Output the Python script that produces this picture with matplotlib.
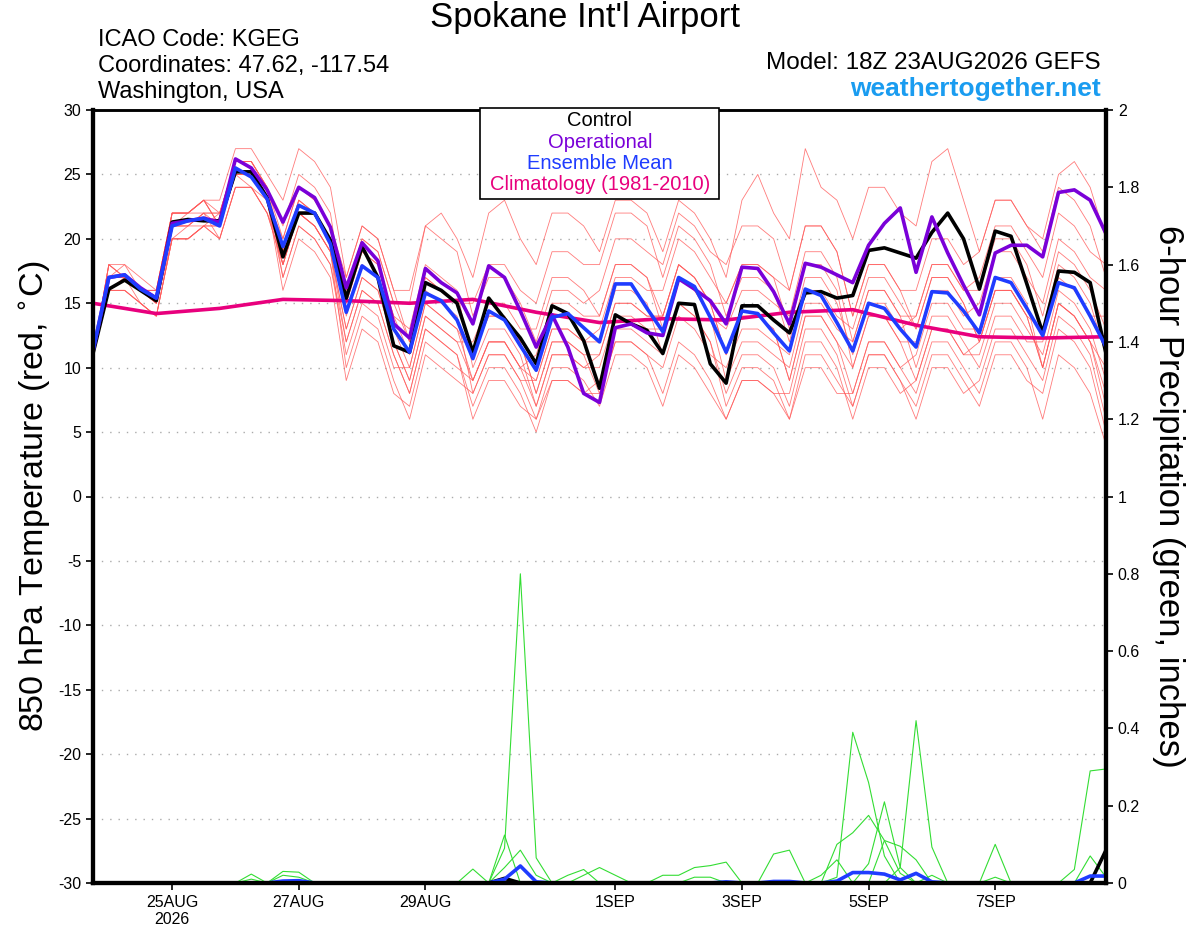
import numpy as np
import matplotlib
matplotlib.use("Agg")
import matplotlib.pyplot as plt
from matplotlib.patches import Rectangle

plt.rcParams['font.family'] = ['Liberation Sans', 'DejaVu Sans']
plt.rcParams['axes.unicode_minus'] = False

# 6-hourly steps from 18Z 23AUG2026
tick_steps = [5, 13, 21, 33, 41, 49, 57]
tick_labels = ['25AUG\n2026', '27AUG', '29AUG', '1SEP', '3SEP', '5SEP', '7SEP']

control = [11.1, 16.1, 16.8, 16.0, 15.2, 21.3, 21.5, 21.4, 21.4, 25.2,
           25.2, 23.2, 18.6, 22.0, 22.0, 19.9, 15.4, 19.4, 17.0, 11.7,
           11.2, 16.6, 16.0, 15.0, 11.2, 15.4, 13.8, 12.3, 10.3, 14.8,
           14.2, 12.1, 8.4, 14.1, 13.4, 12.9, 11.1, 15.0, 14.9, 10.3,
           8.8, 14.8, 14.8, 13.7, 12.7, 15.8, 15.9, 15.4, 15.6, 19.1,
           19.3, 18.9, 18.5, 20.5, 22.0, 20.0, 16.1, 20.6, 20.2, 16.5,
           12.7, 17.5, 17.4, 16.6, 11.1]
operational = [11.3, 17.0, 17.2, 16.2, 15.4, 21.2, 21.4, 21.6, 21.3, 26.2,
               25.5, 23.8, 21.3, 24.0, 23.2, 20.9, 16.2, 19.7, 18.3, 13.4,
               12.3, 17.7, 16.6, 15.8, 13.4, 17.9, 17.0, 14.4, 11.6, 14.1,
               11.6, 8.0, 7.3, 13.1, 13.4, 12.7, 12.5, 16.9, 16.1, 15.2,
               13.4, 17.8, 17.7, 15.9, 13.4, 18.1, 17.8, 17.2, 16.6, 19.5,
               21.2, 22.4, 17.4, 21.7, 18.9, 16.4, 14.1, 18.9, 19.5, 19.5,
               18.6, 23.6, 23.8, 23.0, 20.4]
ens_mean = [11.3, 17.0, 17.2, 16.1, 15.4, 21.0, 21.4, 21.6, 21.0, 25.5,
            24.8, 23.1, 19.4, 22.6, 22.0, 19.6, 14.3, 17.9, 17.0, 13.0,
            11.2, 15.8, 15.2, 13.7, 10.7, 14.4, 13.7, 11.7, 9.8, 13.9,
            14.2, 13.1, 12.0, 16.5, 16.5, 14.6, 12.8, 17.0, 16.3, 13.9,
            11.2, 14.4, 14.2, 12.7, 11.3, 16.1, 15.6, 13.5, 11.3, 15.0,
            14.6, 13.0, 11.6, 15.9, 15.8, 14.4, 12.7, 17.0, 16.6, 14.6,
            12.5, 16.6, 16.2, 14.0, 11.6]
# climatology, daily (every 4th step)
clim = [15.0, 14.2, 14.6, 15.3, 15.2, 15.0, 15.3, 14.3, 13.5, 13.8,
        13.7, 14.3, 14.5, 13.3, 12.4, 12.3, 12.4]

members = [
    [11,17,18,16, 16,22,22,23, 22,26,26,24, 19,23,22,20, 16,20,19,15, 15,21,22,20, 17,22,23,20, 18,22,22,21,
     19,23,23,22, 19,23,22,20, 17,23,25,22, 20,27,24,23, 20,24,24,22, 21,26,27,23, 19,23,23,21, 20,25,26,24, 20],
    [11,16,17,16, 15,20,21,21, 20,24,24,22, 18,22,21,19, 12,16,15,11, 8,13,12,11, 7,10,10,8, 5,9,9,8,
     9,13,13,12, 11,15,14,12, 7,10,10,9, 6,11,11,9, 7,11,11,9, 7,11,11,9, 7,11,11,9, 8,13,12,10, 5],
    [11,18,17,16, 16,22,22,23, 21,25,25,23, 20,24,23,21, 17,21,20,16, 16,21,20,19, 14,17,17,15, 12,16,16,15,
     16,20,20,19, 18,22,21,19, 18,21,21,20, 16,21,21,19, 14,18,18,16, 16,20,20,18, 19,23,23,21, 19,24,23,21, 17],
    [11,16,16,15, 14,20,20,21, 21,25,24,23, 17,21,20,18, 11,15,14,10, 10,15,14,13, 11,14,14,12, 8,12,12,11,
     8,12,12,11, 10,14,13,11, 10,13,13,12, 11,16,16,14, 13,17,17,15, 13,17,17,15, 12,16,16,14, 10,15,14,12, 8],
    [11,17,17,16, 15,21,21,22, 22,26,26,24, 20,24,23,21, 15,19,18,14, 13,18,17,16, 10,13,13,11, 7,11,11,10,
     10,14,14,13, 13,17,16,14, 13,16,16,15, 14,19,19,17, 12,16,16,14, 10,14,14,12, 10,14,14,12, 12,17,16,14, 14],
    [11,16,16,15, 14,20,20,21, 20,24,24,22, 19,23,22,20, 15,19,18,14, 11,16,15,14, 8,11,11,9, 6,10,10,9,
     7,11,11,10, 7,11,10,8, 6,9,9,8, 8,13,13,11, 7,11,11,9, 6,10,10,8, 9,13,13,11, 9,14,13,11, 6],
    [11,18,17,16, 16,22,22,23, 21,25,25,23, 18,22,21,19, 13,17,16,12, 9,14,13,12, 12,15,15,13, 13,17,17,16,
     14,18,18,17, 14,18,17,15, 11,14,14,13, 9,14,14,12, 10,14,14,12, 12,16,16,14, 15,19,19,17, 15,20,19,17, 16],
    [11,17,17,16, 15,21,22,22, 22,26,26,24, 21,25,24,22, 14,18,17,13, 10,15,14,13, 9,12,12,10, 9,13,13,12,
     13,17,17,16, 16,20,19,17, 15,18,18,17, 13,18,18,16, 10,14,14,12, 9,13,13,11, 11,15,15,13, 11,16,15,13, 9],
    [11,16,17,15, 14,20,20,21, 21,25,25,23, 18,22,21,19, 10,14,13,9, 6,11,10,9, 8,11,11,9, 9,13,13,12,
     12,16,16,15, 11,15,14,12, 8,11,11,10, 7,12,12,10, 6,10,10,8, 9,13,13,11, 12,16,16,14, 13,18,17,15, 11],
    [11,18,18,17, 16,22,22,23, 23,27,27,25, 23,27,26,24, 17,21,20,16, 12,17,16,15, 11,14,14,12, 8,12,12,11,
     11,15,15,14, 14,18,17,15, 15,18,18,17, 16,21,21,19, 14,18,18,16, 13,17,17,15, 12,16,16,14, 10,15,14,12, 10],
    [11,17,17,16, 15,21,21,22, 20,24,24,22, 18,22,21,19, 13,17,16,12, 9,14,13,12, 9,12,12,10, 11,15,15,14,
     14,18,18,17, 13,17,16,14, 9,12,12,11, 10,15,15,13, 12,16,16,14, 14,18,18,16, 17,21,21,19, 17,22,21,19, 18],
    [11,17,17,16, 15,21,21,22, 21,25,25,23, 16,20,19,17, 9,13,12,8, 7,12,11,10, 9,12,12,10, 7,11,11,10,
     11,15,15,14, 14,18,17,15, 11,14,14,13, 9,14,14,12, 8,12,12,10, 8,12,12,10, 8,12,12,10, 6,11,10,8, 4],
    [11,18,17,16, 16,22,22,23, 21,25,25,23, 19,23,22,20, 16,20,19,15, 12,17,16,15, 15,18,18,16, 15,19,19,18,
     18,22,22,21, 17,21,20,18, 14,17,17,16, 12,17,17,15, 11,15,15,13, 14,18,18,16, 16,20,20,18, 14,19,18,16, 13],
    [11,16,16,15, 14,20,20,21, 22,26,26,24, 17,21,20,18, 12,16,15,11, 8,13,12,11, 6,9,9,7, 6,9,9,8,
     8,12,12,11, 8,12,11,9, 6,9,9,8, 6,10,10,8, 8,12,12,10, 11,15,15,13, 13,17,17,15, 10,15,14,12, 7],
]

# 6-hour precipitation (inches), sparse: step -> amount
precip_members = [
    {26: 0.09, 27: 0.80, 28: 0.065, 47: 0.015, 48: 0.39, 49: 0.26, 50: 0.07},
    {10: 0.023, 24: 0.036, 43: 0.075, 44: 0.085, 51: 0.04, 52: 0.42, 53: 0.093},
    {12: 0.03, 13: 0.028, 26: 0.124, 36: 0.02, 37: 0.02, 38: 0.04, 39: 0.045, 40: 0.054,
     47: 0.10, 48: 0.13, 49: 0.175, 50: 0.11, 51: 0.025},
    {26: 0.04, 27: 0.085, 28: 0.02, 49: 0.05, 50: 0.21, 51: 0.04, 62: 0.035, 63: 0.29, 64: 0.295},
    {12: 0.02, 13: 0.015, 30: 0.02, 31: 0.035, 50: 0.11, 51: 0.095, 52: 0.06, 57: 0.10, 63: 0.07, 64: 0.015},
    {10: 0.01, 31: 0.02, 32: 0.04, 33: 0.02, 38: 0.015, 39: 0.015, 46: 0.02, 47: 0.06, 53: 0.02, 57: 0.015},
]
precip_mean = {12: 0.005, 13: 0.006, 26: 0.01, 27: 0.044, 28: 0.003, 40: 0.003, 43: 0.004, 44: 0.004,
               47: 0.005, 48: 0.027, 49: 0.027, 50: 0.023, 51: 0.008, 52: 0.025, 53: 0.003,
               63: 0.018, 64: 0.018}
precip_control = {26: 0.012, 64: 0.085}

n = len(control)
steps = np.arange(n)


def fill(sparse):
    arr = np.zeros(n)
    for k, v in sparse.items():
        arr[k] = v
    return arr


fig = plt.figure(figsize=(12, 9.27), dpi=100)
ax = fig.add_axes([93 / 1200, 44 / 927, 1013 / 1200, 773 / 927])
ax2 = ax.twinx()

for m in members:
    ax.plot(steps, m, color='#ff5a5a', lw=0.6, alpha=0.8, zorder=2)
ax.plot(np.arange(0, n, 4), clim, color='#e8007d', lw=2.6, zorder=4)
ax.plot(steps, control, color='black', lw=2.6, zorder=5)
ax.plot(steps, operational, color='#7a00d8', lw=2.6, zorder=5)
ax.plot(steps, ens_mean, color='#1f3cff', lw=2.6, zorder=6)

for p in precip_members:
    ax2.plot(steps, fill(p), color='#33dd33', lw=0.8)
ax2.plot(steps, fill(precip_control), color='black', lw=2.6)
ax2.plot(steps, fill(precip_mean), color='#1f3cff', lw=2.6)

ax.set_xlim(0, n - 1)
ax.set_ylim(-30, 30)
ax2.set_ylim(0, 2)
ax.set_yticks(np.arange(-30, 31, 5))
ax2.set_yticks(np.arange(0, 2.01, 0.2))
ax2.set_yticklabels(['0', '0.2', '0.4', '0.6', '0.8', '1', '1.2', '1.4', '1.6', '1.8', '2'])
ax.set_xticks(tick_steps)
ax.set_xticklabels(tick_labels)

for y in range(-25, 30, 5):
    ax.axhline(y, color='#aaaaaa', lw=1.0, ls=(0, (1, 5)), zorder=1)

ax.tick_params(axis='both', labelsize=11.5, length=5, width=1.2, direction='out')
ax2.tick_params(axis='y', labelsize=11.5, length=5, width=1.2, direction='out')

for a in (ax, ax2):
    a.spines['left'].set_linewidth(3)
    a.spines['right'].set_linewidth(3)
    a.spines['bottom'].set_linewidth(3)
    a.spines['top'].set_linewidth(1.8)

ax.set_ylabel('850 hPa Temperature (red, $^{\\circ}$C)', fontsize=24.5, labelpad=3)
ax2.set_ylabel('6-hour Precipitation (green, inches)', fontsize=25, rotation=270, labelpad=32)

# header
fig.text(585 / 1200, 1 - 18 / 927, "Spokane Int'l Airport", fontsize=25, ha='center', va='center')
fig.text(98 / 1200, 1 - 40 / 927, 'ICAO Code: KGEG', fontsize=17, ha='left', va='center')
fig.text(98 / 1200, 1 - 66 / 927, 'Coordinates: 47.62, -117.54', fontsize=17, ha='left', va='center')
fig.text(98 / 1200, 1 - 92 / 927, 'Washington, USA', fontsize=17, ha='left', va='center')
fig.text(1101 / 1200, 1 - 63 / 927, 'Model: 18Z 23AUG2026 GEFS', fontsize=17.5, ha='right', va='center')
fig.text(1101 / 1200, 1 - 89 / 927, 'weathertogether.net', fontsize=19, fontweight='bold',
         color='#1a9cf0', ha='right', va='center')

# legend box
fig.patches.append(Rectangle((480 / 1200, 1 - 199 / 927), 239 / 1200, 91 / 927,
                             transform=fig.transFigure, facecolor='white', edgecolor='black',
                             lw=1.2, zorder=10))
legend_items = [('Control', 'black'), ('Operational', '#7a00d8'),
                ('Ensemble Mean', '#1f3cff'), ('Climatology (1981-2010)', '#e8007d')]
for k, (lab, col) in enumerate(legend_items):
    fig.text(600 / 1200, 1 - (121 + 21.3 * k) / 927, lab, fontsize=14.5, color=col,
             ha='center', va='center', zorder=11)

fig.savefig('out.png', dpi=100)
